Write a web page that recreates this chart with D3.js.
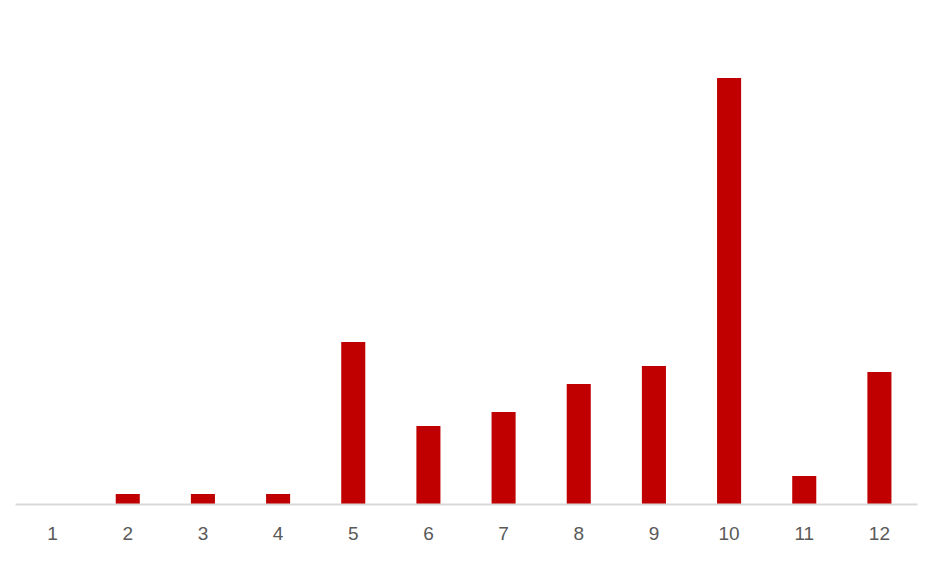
<!DOCTYPE html>
<html>
<head>
<meta charset="utf-8">
<script src="https://cdn.jsdelivr.net/npm/d3@7"></script>
<style>
  body { margin: 0; background: #fff; }
  svg { display: block; }
</style>
</head>
<body>
<div id="chart"></div>
<script>
var categories = ["1", "2", "3", "4", "5", "6", "7", "8", "9", "10", "11", "12"];
var values = [0, 1, 1, 1, 16.2, 7.8, 9.2, 12, 13.8, 42.6, 2.8, 13.2];

var margin = { top: 54, right: 25, bottom: 62, left: 15 },
    width = 942 - margin.left - margin.right,
    height = 566 - margin.top - margin.bottom;

var svg = d3.select("#chart")
    .append("svg")
    .attr("width", 942)
    .attr("height", 566)
    .append("g")
    .attr("transform", "translate(" + margin.left + "," + margin.top + ")");

var x = d3.scaleBand()
    .domain(categories)
    .range([0, width])
    .paddingInner(0.68)
    .paddingOuter(0.34);

var y = d3.scaleLinear()
    .domain([0, 45])
    .range([height, 0]);

svg.selectAll(".bar")
    .data(values)
    .enter()
    .append("rect")
    .attr("class", "bar")
    .attr("x", function (d, i) { return x(categories[i]); })
    .attr("y", function (d) { return y(d); })
    .attr("width", x.bandwidth())
    .attr("height", function (d) { return height - y(d); })
    .attr("fill", "#c00000");

var xAxis = svg.append("g")
    .attr("transform", "translate(0," + height + ")")
    .call(d3.axisBottom(x).tickSize(0).tickPadding(23));

xAxis.select(".domain")
    .attr("stroke", "#d9d9d9")
    .attr("stroke-width", 2);

xAxis.selectAll("text")
    .attr("fill", "#595959")
    .style("font-family", "'Liberation Sans', Arial, sans-serif")
    .style("font-size", "19px");
</script>
</body>
</html>
